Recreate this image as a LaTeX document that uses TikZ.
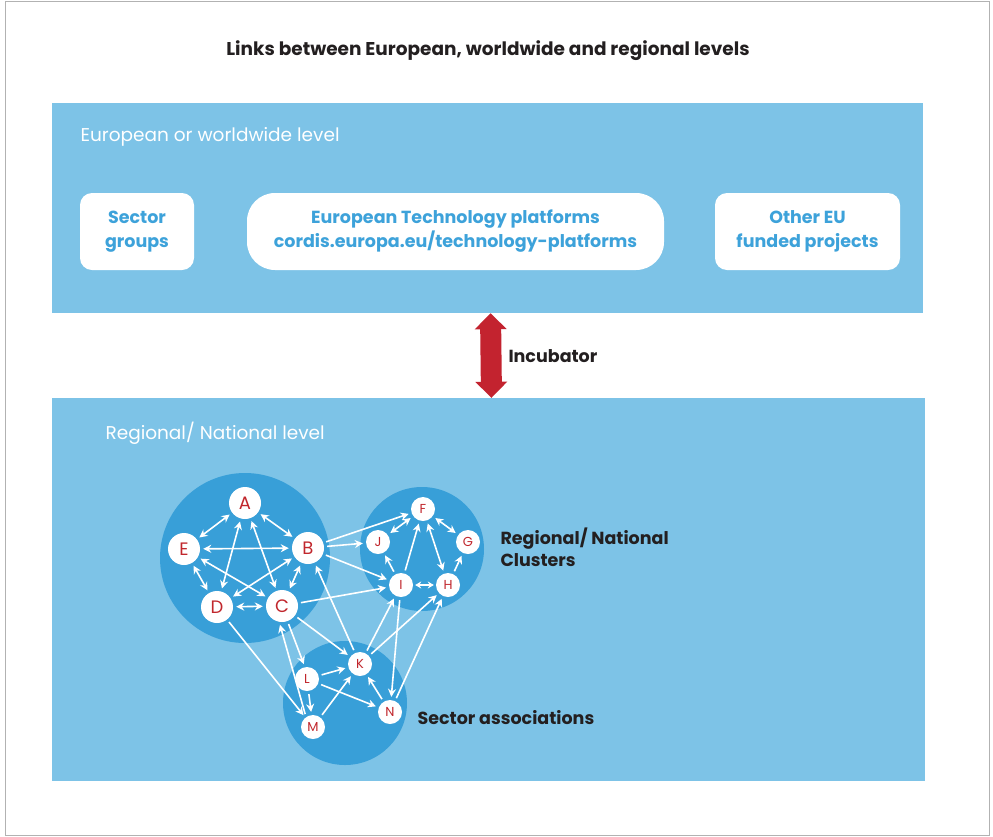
\documentclass[tikz,border=0pt]{standalone}
\usepackage{fontspec}
\setmainfont{Poppins}
\usepackage{xcolor}
\usepackage{tikz}
\usetikzlibrary{arrows, arrows.meta, positioning, calc}
\definecolor{levelblue}{HTML}{7DC3E7}
\definecolor{clusterblue}{HTML}{389FD8}
\definecolor{boxtext}{HTML}{3DA2DA}
\definecolor{letterred}{HTML}{C1272D}
\definecolor{incubred}{HTML}{C3232F}
\definecolor{darktext}{HTML}{231F20}

\begin{document}
\begin{tikzpicture}[x=1pt, y=-1pt]
\tikzstyle{level} = [rectangle, fill=levelblue, inner sep=0pt]
\tikzstyle{group} = [rectangle, rounded corners=12pt, fill=white, minimum height=77pt, text centered, align=center, text=boxtext, font=\fontsize{17.5}{24}\selectfont\bfseries]
\tikzstyle{cluster} = [circle, fill=clusterblue, inner sep=0pt]
\tikzstyle{member} = [circle, fill=white, inner sep=0pt, minimum size=32pt, text=letterred, font=\fontsize{18}{18}\selectfont]
\tikzstyle{minor} = [member, minimum size=24pt, font=\fontsize{13}{13}\selectfont]
\tikzstyle{caption} = [anchor=west, align=left, text=darktext, font=\fontsize{17.5}{22}\selectfont\bfseries]
\tikzstyle{levellabel} = [anchor=west, text=white, font=\fontsize{18.5}{18.5}\selectfont]
\tikzstyle{link} = [white, line width=1.6pt, {Stealth[length=8pt,width=8pt]}-{Stealth[length=8pt,width=8pt]}, shorten >=3pt, shorten <=3pt]
\tikzstyle{arrow} = [white, line width=1.6pt, -{Stealth[length=8pt,width=8pt]}, shorten >=3pt, shorten <=3pt]
\tikzstyle{shortlink} = [white, line width=1.6pt, {Stealth[length=6pt,width=7pt]}-{Stealth[length=6pt,width=7pt]}, shorten >=2pt, shorten <=2pt]
\tikzstyle{incubator} = [incubred, line width=21pt, {Triangle[width=31pt,length=16pt]}-{Triangle[width=31pt,length=16pt]}]

\useasboundingbox (0,0) rectangle (993,836);
\draw[line width=1pt, gray!60] (5,1) rectangle (989,835);

\node[text=darktext, font=\fontsize{18.5}{18.5}\selectfont\bfseries] (title) at (488,51) {Links between European, worldwide and regional levels};

\node[level, minimum width=871pt, minimum height=210pt] (euro) at (487.5,208) {};
\node[levellabel] (eurolabel) at (77,137) {European or worldwide level};
\node[group, minimum width=114pt] (sector) at (137,231.5) {Sector\\groups};
\node[group, minimum width=417pt, rounded corners=28pt] (etp) at (455.5,231.5) {European Technology platforms\\cordis.europa.eu/technology-platforms};
\node[group, minimum width=185pt] (other) at (807.5,231.5) {Other EU\\funded projects};

\node[level, minimum width=873pt, minimum height=383pt] (regional) at (488.5,589.5) {};
\node[levellabel] (reglabel) at (102,433) {Regional/ National level};

\draw[incubator] ([xshift=3pt]euro.south) -- ([xshift=3pt]regional.north);
\node[caption] (incub) at (505,356) {Incubator};

\node[cluster, minimum size=170pt] (clusterone) at (245,558) {};
\node[cluster, minimum size=124pt] (clustertwo) at (422,549) {};
\node[cluster, minimum size=124pt] (sectorcl) at (345,703) {};

\node[member] (A) at (245,503) {A};
\node[member] (E) at (184,549) {E};
\node[member] (B) at (308,548) {B};
\node[member] (D) at (217,607) {D};
\node[member] (C) at (282,606) {C};

\node[minor] (F) at (423,509) {F};
\node[minor] (J) at (378,542) {J};
\node[minor] (G) at (468,542) {G};
\node[minor] (I) at (401,585) {I};
\node[minor] (H) at (448,585) {H};

\node[minor] (K) at (360,664) {K};
\node[minor] (L) at (307,679) {L};
\node[minor] (M) at (313,727) {M};
\node[minor] (N) at (390,712) {N};

\node[caption] (cllabel) at (497,547) {Regional/ National\\Clusters};
\node[caption] (salabel) at (414,718) {Sector associations};

\draw[link] (A) -- (E);
\draw[link] (A) -- (B);
\draw[link] (E) -- (B);
\draw[link] (E) -- (C);
\draw[link] (E) -- (D);
\draw[link] (B) -- (D);
\draw[link] (B) -- (C);
\draw[link] (D) -- (C);
\draw[link] (A) -- (D);
\draw[link] (A) -- (C);

\draw[arrow] (B) -- (F);
\draw[arrow] (B) -- (J);
\draw[arrow] (B) -- (I);
\draw[arrow] (C) -- (I);
\draw[arrow] (C) -- (K);
\draw[arrow] (C.-70) -- (L.100);
\draw[arrow] (K) -- (B);
\draw[arrow] (M.125) -- (C.-100);
\draw[arrow] (D) -- (M);

\draw[link] (F) -- (J);
\draw[link] (F) -- (G);
\draw[link] (F) -- (H);
\draw[shortlink] (I) -- (H);
\draw[arrow] (I) -- (F);
\draw[arrow] (I) -- (J);
\draw[arrow] (H) -- (G);

\draw[arrow] (L) -- (K);
\draw[arrow] (L) -- (M);
\draw[arrow] (L) -- (N);
\draw[arrow] (M) -- (K);
\draw[arrow] (N) -- (K);
\draw[arrow] (K) -- (I);
\draw[arrow] (K) -- (H);
\draw[arrow] (I) -- (N);
\draw[arrow] (N) -- (H);
\end{tikzpicture}
\end{document}
